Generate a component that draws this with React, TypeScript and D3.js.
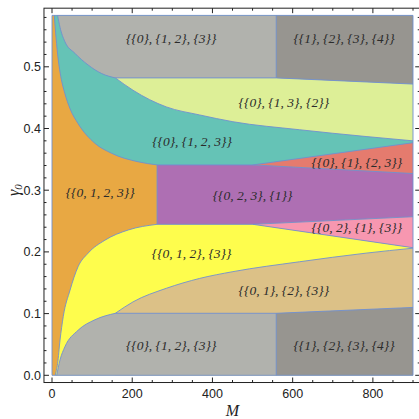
import * as d3 from "d3";

type Pt = [number, number];

// axis ticks
const xMajor = [0, 200, 400, 600, 800];
const yMajor = [0, 0.1, 0.2, 0.3, 0.4, 0.5];
const mMax = 900;
const gMax = 0.5833;

// region boundaries, as [M, γ0]
const orangeTeal: Pt[] = [
  [5.7, 0.5833], [10, 0.548], [15.7, 0.511], [22, 0.484], [32, 0.457], [45, 0.432],
  [65, 0.408], [107, 0.376], [148, 0.36], [215, 0.346], [262, 0.341],
];
const tealGrey: Pt[] = [
  [14, 0.5833], [20, 0.564], [32, 0.541], [57, 0.522], [90, 0.503], [124, 0.489], [158, 0.482],
];
const greyUpper: Pt[] = [[158, 0.482], [559, 0.482], [900, 0.472]];
const tealGreen: Pt[] = [
  [158, 0.482], [202, 0.462], [285, 0.435], [368, 0.422], [451, 0.411],
  [617, 0.398], [783, 0.387], [900, 0.38],
];
const tealFlat: Pt[] = [[262, 0.341], [501, 0.341]];
const redTop: Pt[] = [[501, 0.341], [900, 0.377]];
const redBottom: Pt[] = [[501, 0.341], [900, 0.327]];
const yellowFlat: Pt[] = [[262, 0.2447], [501, 0.2447]];
const pinkTop: Pt[] = [[501, 0.2447], [900, 0.257]];
const pinkBottom: Pt[] = [[501, 0.2447], [900, 0.2068]];
const orangeYellow: Pt[] = [
  [8, 0], [11, 0.008], [14, 0.019], [20, 0.057], [28, 0.095], [45, 0.138],
  [65, 0.176], [90, 0.198], [132, 0.219], [190, 0.2355], [262, 0.2447],
];
const yellowGrey: Pt[] = [
  [11.7, 0], [20, 0.025], [32, 0.046], [65, 0.073], [107, 0.09], [158, 0.1005],
];
const yellowTan: Pt[] = [
  [158, 0.1005], [202, 0.119], [285, 0.141], [368, 0.157], [451, 0.168],
  [617, 0.184], [783, 0.198], [900, 0.206],
];
const greyLower: Pt[] = [[158, 0.1005], [559, 0.1005], [900, 0.11]];
const splitM = 559;
const edgeM = 262;

const regionLabels: { text: string; m: number; g: number }[] = [
  { text: "{{0}, {1, 2}, {3}}", m: 297, g: 0.547 },
  { text: "{{1}, {2}, {3}, {4}}", m: 728, g: 0.547 },
  { text: "{{0}, {1, 3}, {2}}", m: 578, g: 0.443 },
  { text: "{{0}, {1, 2, 3}}", m: 349, g: 0.38 },
  { text: "{{0}, {1}, {2, 3}}", m: 760, g: 0.346 },
  { text: "{{0, 1, 2, 3}}", m: 120, g: 0.297 },
  { text: "{{0, 2, 3}, {1}}", m: 500, g: 0.292 },
  { text: "{{0, 2}, {1}, {3}}", m: 760, g: 0.24 },
  { text: "{{0, 1, 2}, {3}}", m: 348, g: 0.198 },
  { text: "{{0, 1}, {2}, {3}}", m: 578, g: 0.138 },
  { text: "{{0}, {1, 2}, {3}}", m: 297, g: 0.049 },
  { text: "{{1}, {2}, {3}, {4}}", m: 728, g: 0.049 },
];

const C = {
  orange: "#E8A843",
  teal: "#65C3B6",
  grey: "#B1B2AD",
  dark: "#979590",
  lime: "#DDEF97",
  red: "#E57B6E",
  purple: "#AE6FB3",
  pink: "#F797B0",
  yellow: "#FEFD4D",
  tan: "#DCC187",
  edge: "#7090CF",
};

export default function App() {
  const W = 419;
  const H = 419;
  const x = d3.scaleLinear().domain([0, mMax]).range([52, 413]);
  const y = d3.scaleLinear().domain([0, 0.5]).range([375.3, 66.8]);

  const fl = x(-20);
  const fr = x(918);
  const ft = y(0.595);
  const fb = y(-0.0117);

  const smooth = d3
    .line<Pt>()
    .x((d) => x(d[0]))
    .y((d) => y(d[1]))
    .curve(d3.curveMonotoneX);
  const straight = d3
    .line<Pt>()
    .x((d) => x(d[0]))
    .y((d) => y(d[1]));

  // join several boundary pieces into one path
  const trace = (segs: [Pt[], boolean][]) =>
    segs
      .map(([pts, s], i) => {
        const p = (s ? smooth(pts) : straight(pts)) as string;
        return i === 0 ? p : "L" + p.slice(1);
      })
      .join("");

  // area from a boundary up (or down) to a fixed level
  const fill = (segs: [Pt[], boolean][], level: number) => {
    const first = segs[0][0][0];
    const lastSeg = segs[segs.length - 1][0];
    const last = lastSeg[lastSeg.length - 1];
    return (
      trace(segs) +
      `L${x(last[0])},${y(level)}L${x(first[0])},${y(level)}Z`
    );
  };

  const poly = (pts: Pt[]) => (straight(pts) as string) + "Z";

  const areas: { d: string; c: string }[] = [
    { d: poly([[0, 0], [mMax, 0], [mMax, gMax], [0, gMax]]), c: C.orange },
    { d: fill([[orangeTeal, true], [[[262, 0.341], [900, 0.341]], false]], gMax), c: C.teal },
    { d: fill([[tealGreen, true]], gMax), c: C.lime },
    { d: fill([[tealGrey, true], [greyUpper, false]], gMax), c: C.grey },
    { d: fill([[greyUpper.slice(1), false]], gMax), c: C.dark },
    { d: fill([[orangeYellow, true], [pinkBottom, false]], 0), c: C.yellow },
    { d: fill([[yellowTan, true]], 0), c: C.tan },
    { d: fill([[yellowGrey, true], [greyLower, false]], 0), c: C.grey },
    { d: fill([[greyLower.slice(1), false]], 0), c: C.dark },
    { d: poly([redTop[0], redTop[1], redBottom[1]]), c: C.red },
    {
      d: poly([
        [edgeM, 0.341], tealFlat[1], redBottom[1], pinkTop[1], yellowFlat[1], [edgeM, 0.2447],
      ]),
      c: C.purple,
    },
    { d: poly([pinkTop[0], pinkTop[1], pinkBottom[1]]), c: C.pink },
  ];

  const lines: string[] = [
    trace([[orangeTeal, true]]),
    trace([[tealGrey, true], [greyUpper, false]]),
    trace([[tealGreen, true]]),
    straight(tealFlat) as string,
    straight(redTop) as string,
    straight(redBottom) as string,
    straight(yellowFlat) as string,
    straight(pinkTop) as string,
    straight(pinkBottom) as string,
    trace([[orangeYellow, true]]),
    trace([[yellowGrey, true], [greyLower, false]]),
    trace([[yellowTan, true]]),
    straight([[edgeM, 0.2447], [edgeM, 0.341]]) as string,
    straight([[splitM, greyUpper[1][1]], [splitM, gMax]]) as string,
    straight([[splitM, 0], [splitM, greyLower[1][1]]]) as string,
    poly([[0, 0], [mMax, 0], [mMax, gMax], [0, gMax]]),
  ];

  const xMinor = d3.range(0, 901, 50);
  const yMinor = d3.range(0, 0.59, 0.02);

  const tickFont = { fontFamily: "Liberation Sans, Arial, sans-serif", fontSize: 12.5, fill: "#222" };
  const serif = "Liberation Serif, Times New Roman, serif";

  return (
    <svg
      width={W}
      height={H}
      style={{ position: "absolute", left: 0, top: 0, background: "#fff" }}
    >
      {areas.map((a, i) => (
        <path key={i} d={a.d} fill={a.c} stroke="none" />
      ))}
      {lines.map((d, i) => (
        <path key={i} d={d} fill="none" stroke={C.edge} strokeWidth={0.9} />
      ))}

      {regionLabels.map((l, i) => (
        <text
          key={i}
          x={x(l.m)}
          y={y(l.g)}
          dy="0.35em"
          textAnchor="middle"
          fontFamily={serif}
          fontStyle="italic"
          fontSize={13.5}
          fill="#2b2b2b"
        >
          {l.text}
        </text>
      ))}

      {/* frame */}
      <rect x={fl} y={ft} width={fr - fl} height={fb - ft} fill="none" stroke="#222" strokeWidth={1} />
      {xMinor.map((m) => {
        const big = m % 200 === 0;
        const len = big ? 5 : 2.5;
        return (
          <g key={"x" + m}>
            <line x1={x(m)} x2={x(m)} y1={fb} y2={fb - len} stroke="#222" />
            <line x1={x(m)} x2={x(m)} y1={ft} y2={ft + len} stroke="#222" />
          </g>
        );
      })}
      {yMinor.map((g, i) => {
        const big = i % 5 === 0;
        const len = big ? 5 : 2.5;
        return (
          <g key={"y" + i}>
            <line x1={fl} x2={fl + len} y1={y(g)} y2={y(g)} stroke="#222" />
            <line x1={fr} x2={fr - len} y1={y(g)} y2={y(g)} stroke="#222" />
          </g>
        );
      })}
      {xMajor.map((m) => (
        <text key={"xl" + m} x={x(m)} y={fb + 15} textAnchor="middle" {...tickFont}>
          {m}
        </text>
      ))}
      {yMajor.map((g) => (
        <text key={"yl" + g} x={fl - 3} y={y(g)} dy="0.35em" textAnchor="end" {...tickFont}>
          {g.toFixed(1)}
        </text>
      ))}

      <text
        x={(x(0) + x(mMax)) / 2}
        y={416}
        textAnchor="middle"
        fontFamily={serif}
        fontStyle="italic"
        fontSize={16}
        fill="#222"
      >
        M
      </text>
      <text
        transform={`translate(19,${y(0.3)}) rotate(-90)`}
        textAnchor="middle"
        fontFamily={serif}
        fontStyle="italic"
        fontSize={16}
        fill="#222"
      >
        γ<tspan fontSize={11} dy={3}>0</tspan>
      </text>
    </svg>
  );
}
